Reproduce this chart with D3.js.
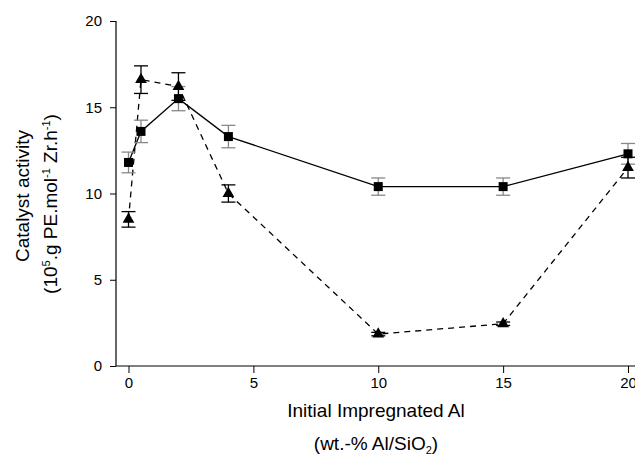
<!DOCTYPE html>
<html>
<head>
<meta charset="utf-8">
<script src="https://cdn.jsdelivr.net/npm/d3@7"></script>
<style>
  body { margin: 0; background: #fff; }
  text { font-family: "Liberation Sans", Arial, sans-serif; }
</style>
</head>
<body>
<div id="draw"></div>
<script>
var alLoad = [0, 0.5, 2, 4, 10, 15, 20];
var squareVals = [11.8, 13.6, 15.5, 13.3, 10.4, 10.4, 12.3];
var squareErr = [0.6, 0.65, 0.7, 0.65, 0.5, 0.5, 0.6];
var triVals = [8.5, 16.6, 16.2, 10.0, 1.85, 2.45, 11.5];
var triErr = [0.45, 0.8, 0.8, 0.5, 0.1, 0.1, 0.6];
var xTicks = [0, 5, 10, 15, 20];
var yTicks = [0, 5, 10, 15, 20];

var width = 635, height = 455;

var svg = d3.select("#draw").append("svg")
	.attr("width", width)
	.attr("height", height);

var x = d3.scaleLinear().domain([0, 20]).range([128.5, 628]);
var y = d3.scaleLinear().domain([0, 20]).range([366, 21]);

// axes
var yAxis = svg.append("g")
	.attr("transform", "translate(116,0)")
	.call(d3.axisLeft(y).tickValues(yTicks).tickSize(6).tickPadding(8));
yAxis.select(".domain").attr("d", "M0," + y(20) + "V" + y(0)).attr("stroke-width", 1.2);
yAxis.selectAll("text").style("font-size", "15px").attr("fill", "#000");

var xAxis = svg.append("g")
	.attr("transform", "translate(0,366)")
	.call(d3.axisBottom(x).tickValues(xTicks).tickSize(7).tickPadding(4));
xAxis.select(".domain").attr("d", "M116,0H635").attr("stroke-width", 1.2);
xAxis.selectAll("text").style("font-size", "15px").attr("fill", "#000");

// axis titles
svg.append("text")
	.attr("transform", "translate(29,196) rotate(-90)")
	.attr("text-anchor", "middle")
	.style("font-size", "19px")
	.text("Catalyst activity");
var t2 = svg.append("text")
	.attr("transform", "translate(57,204) rotate(-90)")
	.attr("text-anchor", "middle")
	.style("font-size", "19px");
t2.append("tspan").text("(10");
t2.append("tspan").attr("dy", -7).style("font-size", "11px").text("5");
t2.append("tspan").attr("dy", 7).text(".g PE.mol");
t2.append("tspan").attr("dy", -7).style("font-size", "11px").text("-1");
t2.append("tspan").attr("dy", 7).text(" Zr.h");
t2.append("tspan").attr("dy", -7).style("font-size", "11px").text("-1");
t2.append("tspan").attr("dy", 7).text(")");

svg.append("text")
	.attr("x", 376).attr("y", 417)
	.attr("text-anchor", "middle")
	.style("font-size", "19px")
	.text("Initial Impregnated Al");
var t3 = svg.append("text")
	.attr("x", 376).attr("y", 450)
	.attr("text-anchor", "middle")
	.style("font-size", "19px");
t3.append("tspan").text("(wt.-% Al/SiO");
t3.append("tspan").attr("dy", 4).style("font-size", "11px").text("2");
t3.append("tspan").attr("dy", -4).text(")");

var squares = alLoad.map(function(d, i){ return {x: d, v: squareVals[i], e: squareErr[i]}; });
var tris = alLoad.map(function(d, i){ return {x: d, v: triVals[i], e: triErr[i]}; });

var line = d3.line()
	.x(function(d){ return x(d.x); })
	.y(function(d){ return y(d.v); });

// lines
svg.append("path")
	.datum(tris)
	.attr("d", line)
	.attr("fill", "none")
	.attr("stroke", "#000")
	.attr("stroke-width", 1.3)
	.attr("stroke-dasharray", "6,5");
svg.append("path")
	.datum(squares)
	.attr("d", line)
	.attr("fill", "none")
	.attr("stroke", "#000")
	.attr("stroke-width", 1.3);

function errorBars(data, color, cls) {
	var g = svg.append("g").attr("stroke", color).attr("stroke-width", 1.3);
	g.selectAll("." + cls + "v")
		.data(data)
		.enter()
		.append("line")
		.attr("x1", function(d){ return x(d.x); })
		.attr("x2", function(d){ return x(d.x); })
		.attr("y1", function(d){ return y(d.v - d.e); })
		.attr("y2", function(d){ return y(d.v + d.e); });
	[1, -1].forEach(function(s){
		g.selectAll("." + cls + "c" + s)
			.data(data)
			.enter()
			.append("line")
			.attr("x1", function(d){ return x(d.x) - 7; })
			.attr("x2", function(d){ return x(d.x) + 7; })
			.attr("y1", function(d){ return y(d.v + s * d.e); })
			.attr("y2", function(d){ return y(d.v + s * d.e); });
	});
}
errorBars(squares, "#888", "sq");
errorBars(tris, "#000", "tr");

// markers
svg.selectAll(".tri")
	.data(tris)
	.enter()
	.append("path")
	.attr("class", "tri")
	.attr("d", d3.symbol().type(d3.symbolTriangle).size(60))
	.attr("transform", function(d){ return "translate(" + x(d.x) + "," + y(d.v) + ")"; })
	.attr("fill", "#000");
svg.selectAll(".sq")
	.data(squares)
	.enter()
	.append("rect")
	.attr("class", "sq")
	.attr("x", function(d){ return x(d.x) - 4.5; })
	.attr("y", function(d){ return y(d.v) - 4.5; })
	.attr("width", 9)
	.attr("height", 9)
	.attr("fill", "#000");
</script>
</body>
</html>
